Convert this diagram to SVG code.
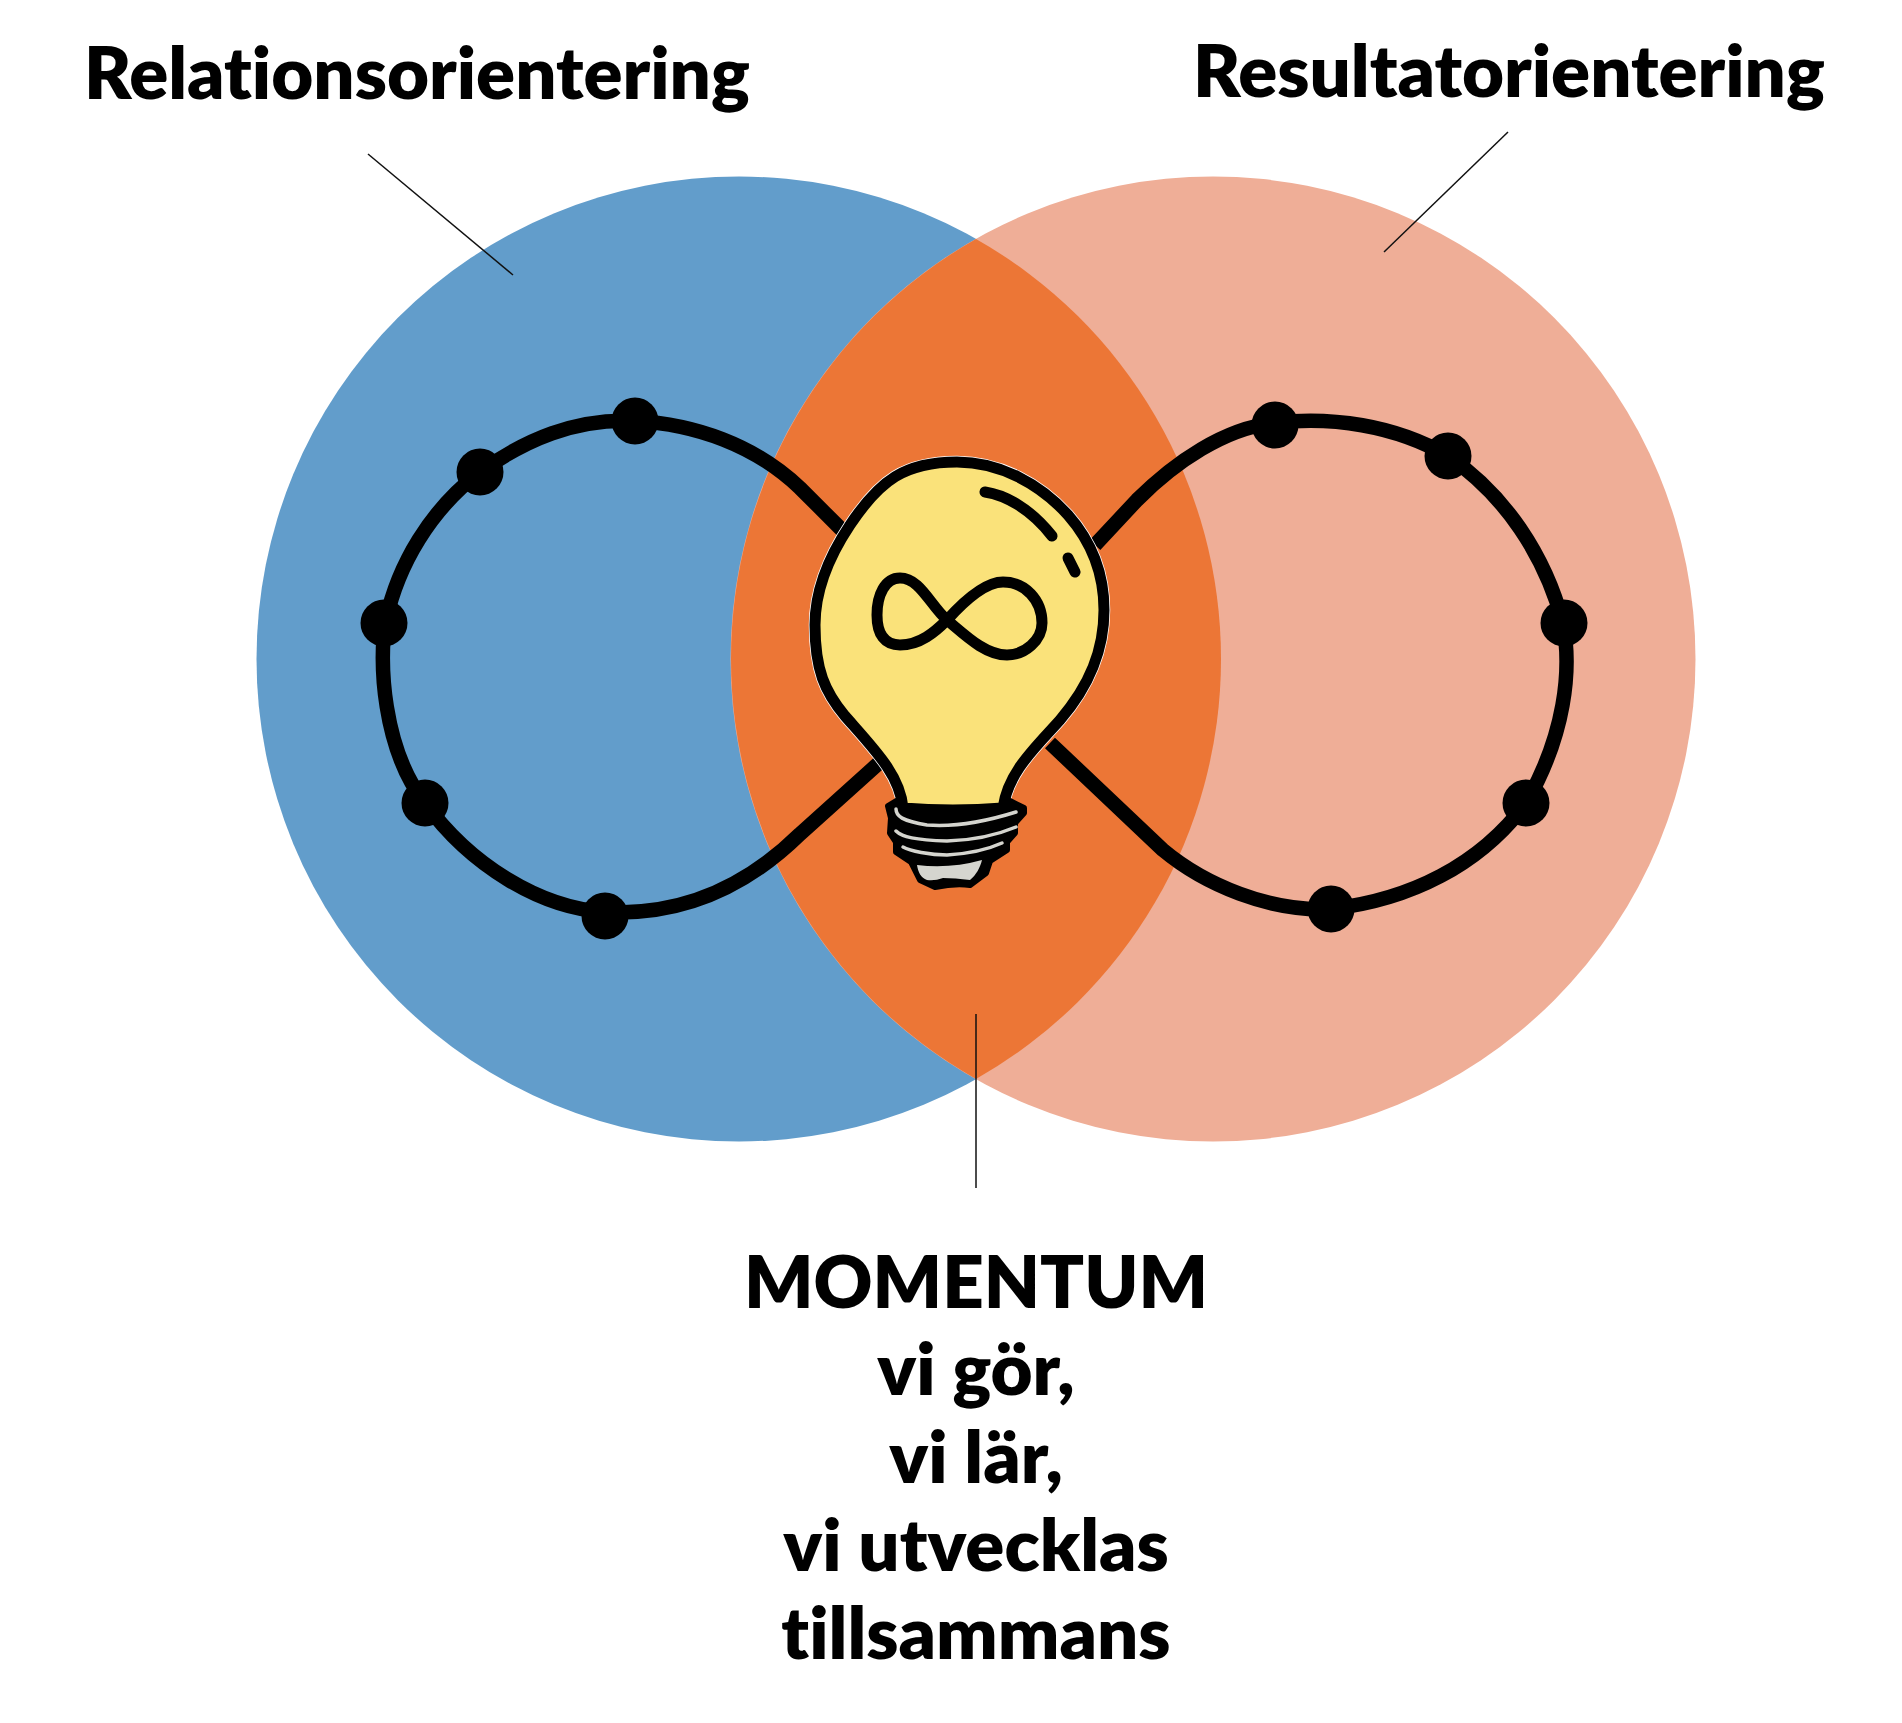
<svg xmlns="http://www.w3.org/2000/svg" width="1902" height="1723" viewBox="0 0 1902 1723">
<style>
text{font-family:Lato,"Liberation Sans",sans-serif;font-weight:800;fill:#000;font-size:72.5px;font-variant-ligatures:none}
.c{text-anchor:middle}
.thin{stroke:#111;stroke-width:1.5;fill:none}
.loop{stroke:#000;stroke-width:14.5;fill:none;stroke-linecap:butt}
.ol{stroke:#000;stroke-width:11;fill:none;stroke-linecap:round;stroke-linejoin:round}
.gr{stroke:#d5d5cf;stroke-width:3.5;fill:none;stroke-linecap:round}
</style>
<defs>
<path id="bulb-shape" d="M957 462C1000 462 1040 484 1068 515C1090 540 1104 570 1104 610C1104 650 1090 685 1060 720C1035 748 1008 772 1003 808Q953 812 903 808C900 775 875 750 845 716C825 692 815 670 815 625C815 590 830 555 850 525C880 480 905 462 957 462Z"/>
</defs>
<rect width="1902" height="1723" fill="#fff"/>
<g id="circle-relation"><circle cx="739" cy="659" r="482.5" fill="#629dcb"/></g>
<g id="circle-result"><circle cx="1213" cy="659" r="482.5" fill="#efae97"/></g>
<g id="overlap"><path d="M976 239A482.5 482.5 0 0 1 976 1079A482.5 482.5 0 0 1 976 239Z" fill="#ec7636"/></g>
<g id="connectors">
<path class="thin" d="M368 154L513 275"/>
<path class="thin" d="M1508 132L1384 252"/>
<path class="thin" d="M976 1014V1188"/>
</g>
<g id="loop-left">
<path class="loop" d="M845 533L800 488C755 445 695 424 635 421C575 418 525 440 480 472C430 510 398 565 386 620C378 660 383 750 425 803C470 865 540 908 605 912C680 916 745 888 800 834L880 762"/>
<g fill="#000"><circle cx="635" cy="421" r="23.5"/><circle cx="480" cy="472" r="23.5"/><circle cx="384" cy="623" r="23.5"/><circle cx="425" cy="803" r="23.5"/><circle cx="605" cy="916" r="23.5"/></g>
</g>
<g id="loop-right">
<path class="loop" d="M1095 545L1137 500C1175 462 1225 428 1274 423C1330 416 1395 425 1448 456C1505 495 1545 555 1563 623C1572 670 1565 735 1526 803C1480 865 1410 900 1330 909C1270 912 1205 885 1163 850L1050 743"/>
<g fill="#000"><circle cx="1275" cy="425" r="23.5"/><circle cx="1448" cy="456" r="23.5"/><circle cx="1564" cy="623" r="23.5"/><circle cx="1526" cy="803" r="23.5"/><circle cx="1331" cy="909" r="23.5"/></g>
</g>
<g id="bulb">
<use href="#bulb-shape" fill="#fae27a" stroke="#fff" stroke-width="12.5"/>
<use href="#bulb-shape" fill="#fae27a" stroke="#000" stroke-width="11"/>
<path d="M888 806L898 800L910 810Q957 815 1000 808L1010 801L1024 808L1024 813L1015 823L1015 833L1007 842L1007 850L990 861L986 873L970 885Q955 883 935 887L920 880L911 862L896 852L896 842L890 833L891 818Z" fill="#000" stroke="#000" stroke-width="6" stroke-linejoin="round"/>
<path class="gr" d="M896 809C896 816 902 821 927 825Q965 828 1016 812"/>
<path class="gr" d="M896 831C902 837 915 840 947 841Q985 840 1016 827"/>
<path class="gr" d="M903 847C910 851 930 855 947 855Q980 853 1002 843"/>
<path d="M917 865C918 872 921 878 927 880Q935 881 943 878Q955 878 970 880C976 875 980 868 982 860Q950 869 917 865Z" fill="#d5d5cf"/>
<path class="ol" d="M985 492C1005 495 1030 508 1052 536"/>
<path class="ol" d="M1068 558L1075 572"/>
<path class="ol" d="M947 620C930 605 920 578 900 578C885 578 877 595 877 615C877 635 885 645 900 645C920 645 935 632 947 620C965 600 985 582 1003 582C1025 582 1042 600 1042 623C1042 640 1025 655 1007 655C985 655 965 635 947 620Z"/>
</g>
<g id="labels">
<text x="84" y="99">Relationsorientering</text>
<text x="1193" y="97">Resultatorientering</text>
<text class="c" x="976" y="1308">MOMENTUM</text>
<text class="c" x="976" y="1395">vi gör,</text>
<text class="c" x="976" y="1483">vi lär,</text>
<text class="c" x="976" y="1571">vi utvecklas</text>
<text class="c" x="976" y="1659">tillsammans</text>
</g>
</svg>
